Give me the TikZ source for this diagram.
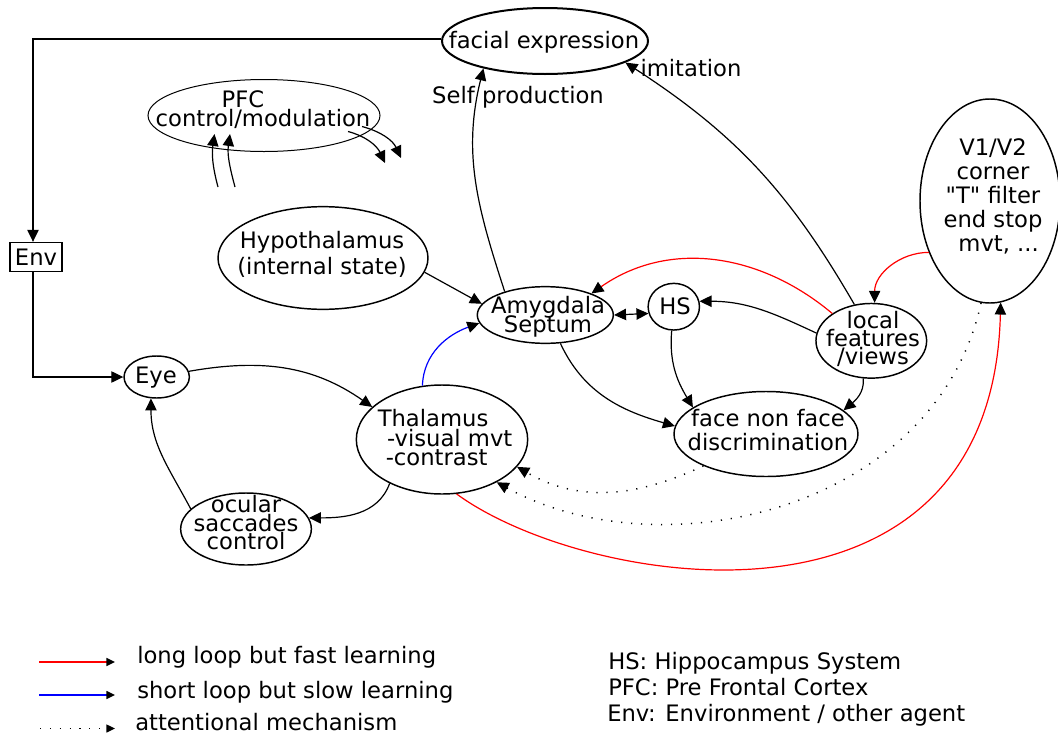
\documentclass[tikz,border=0pt]{standalone}
\usepackage{fontspec}
\setmainfont{DejaVu Sans}[Ligatures=TeXOff]
\usetikzlibrary{arrows.meta,shapes.geometric}
\newcommand{\lfs}[1]{\fontsize{17}{#1}\selectfont\lineskiplimit=-50pt\relax}
\begin{document}
\begin{tikzpicture}[x=0.75pt,y=-0.75pt,
  >={Triangle[length=9pt,width=8.5pt,color=black]},
  ell/.style={draw,ellipse,line width=1.1pt,inner sep=0pt},
  lbl/.style={inner sep=0pt,align=center,font=\lfs{18pt}},
  con/.style={->,line width=0.9pt},
  att/.style={->,line width=1.1pt,dash pattern=on 0.9pt off 6.6pt},
  leg/.style={line width=1.1pt,-{Triangle[length=6.5pt,width=6pt,color=black]}}]
\useasboundingbox (0,0) rectangle (1058,736);

% ---------- nodes ----------
\node[ell,line width=1.5pt,minimum width=154.5pt,minimum height=49.5pt] (fe) at (545,41) {};
\node[lbl] (fet) at (544,42) {facial expression};
\node[lbl] (spt) at (518,97) {Self production};
\node[lbl] (imt) at (691,68) {imitation};

\node[ell,line width=0.75pt,minimum width=174pt,minimum height=54pt] (pfc) at (264,115.5) {};
\node[lbl] (pfct1) at (243,99) {PFC};
\node[lbl] (pfct2) at (263,118.5) {control/modulation};

\node[ell,minimum width=105pt,minimum height=153pt] (v1) at (990,201) {};
\node[lbl] (v1t) at (993,196) {V1/V2\\corner\\"T" filter\\end stop\\\hspace*{0.5em}mvt, ...};

\node[draw,line width=1pt,inner sep=0pt,minimum width=39pt,minimum height=21.75pt,font=\lfs{18pt}] (env) at (36,257) {Env};

\node[ell,minimum width=157.5pt,minimum height=77pt] (hyp) at (323,258) {};
\node[lbl,font=\lfs{19.5pt}] (hypt) at (322,254) {Hypothalamus\\(internal state)};

\node[ell,minimum width=102pt,minimum height=42.5pt] (amy) at (545.3,315) {};
\node[lbl,font=\lfs{14.25pt}] (amyt) at (548,317) {Amygdala\\Septum};

\node[ell,minimum width=38.5pt,minimum height=35pt] (hs) at (673.8,306.7) {};
\node[lbl] (hst) at (675,306.5) {HS};

\node[ell,minimum width=83pt,minimum height=56pt] (loc) at (871.3,340.8) {};
\node[lbl,font=\lfs{13.5pt}] (loct) at (873,339) {local\\features\\/views};

\node[ell,minimum width=49pt,minimum height=31.5pt] (eye) at (156.7,377) {};
\node[lbl] (eyet) at (156,378) {Eye};

\node[ell,minimum width=128.5pt,minimum height=81.75pt] (thal) at (442,439.5) {};
\node[lbl,align=left,anchor=north west,font=\lfs{14.6pt}] (thalt) at (377.5,409.5) {Thalamus\\\hspace*{7pt}-visual mvt\\\hspace*{6pt}-contrast};

\node[ell,minimum width=138pt,minimum height=63.75pt] (face) at (766,434) {};
\node[lbl,font=\lfs{17.5pt}] (facet) at (768,430) {face non face\\discrimination};

\node[ell,minimum width=98pt,minimum height=54pt] (ocu) at (246,529) {};
\node[lbl,font=\lfs{13.9pt}] (ocut) at (246,523) {ocular\\saccades\\control};

% ---------- connectors ----------
\draw[con] ([yshift=1.5pt]fe.west) -| ([xshift=-2.25pt]env.north);
\draw[con] ([xshift=-2.25pt]env.south) |- (eye.west);
\draw[con] (eye.10) to[out=10,in=145] (thal.155);
\draw[con] (thal.220) to[out=250,in=0] (ocu.10);
\draw[con] (ocu.160) to[out=118,in=270] (eye.255);
\draw[con,draw=blue] (thal.110) to[out=88,in=200] (amy.187);
\draw[con] (hyp.352) -- (amy.170);
\draw[con] (amy.150) to[out=108,in=256] (fe.204);
\draw[con] (loc.115) to[out=120,in=-33] (fe.345);
\draw[con,draw=red] (loc.145) to[out=140,in=35] (amy.25);
\draw[con] (loc.172) to[out=155,in=0] (hs.12);
\draw[line width=0.9pt,<->] (amy.east) -- (hs.195);
\draw[con] (hs.265) to[out=-95,in=121] (face.160);
\draw[con] (amy.298) to[out=-65,in=164] (face.175);
\draw[con] (loc.258) to[out=-85,in=40] (face.17);
\draw[con,draw=red] (v1.220) to[out=180,in=90] (loc.85);
\draw[con,draw=red] (thal.285) .. controls (585,588) and (992,655) .. (v1.276);
\draw[att] (face.207) to[out=205,in=-30] (thal.340);
\draw[att] (v1.265) .. controls (935,512) and (660,572) .. (thal.322);

% PFC arrows (free ends)
\coordinate (pa1) at (218,187); \coordinate (pb1) at (214.5,134);
\coordinate (pa2) at (235,187); \coordinate (pb2) at (230,134);
\coordinate (pc1) at (348,131.5); \coordinate (pd1) at (385,163);
\coordinate (pc2) at (362,126.5); \coordinate (pd2) at (401,158);
\draw[con] (pa1) to[out=105,in=262] (pb1);
\draw[con] (pa2) to[out=105,in=262] (pb2);
\draw[con] (pc1) to[out=-15,in=115] (pd1);
\draw[con] (pc2) to[out=-15,in=115] (pd2);

% ---------- legend ----------
\coordinate (la1) at (39,662); \coordinate (lb1) at (115,662);
\coordinate (la2) at (39,695); \coordinate (lb2) at (115,695);
\coordinate (la3) at (40,728.5); \coordinate (lb3) at (115,728.5);
\draw[leg,red,line width=1.2pt] (la1) -- (lb1);
\draw[leg,blue] (la2) -- (lb2);
\draw[leg,line width=1pt,dash pattern=on 0.8pt off 6.6pt] (la3) -- (lb3);
\node[lbl,anchor=base west] (lt1) at (137,663) {long loop but fast learning};
\node[lbl,anchor=base west] (lt2) at (137,698) {short loop but slow learning};
\node[lbl,anchor=base west] (lt3) at (135,730) {attentional mechanism};
\node[lbl,anchor=base west] (rt1) at (608,669) {HS: Hippocampus System};
\node[lbl,anchor=base west] (rt2) at (608,695) {PFC: Pre Frontal Cortex};
\node[lbl,anchor=base west] (rt3) at (607,721.5) {Env: Environment / other agent};
\end{tikzpicture}
\end{document}
